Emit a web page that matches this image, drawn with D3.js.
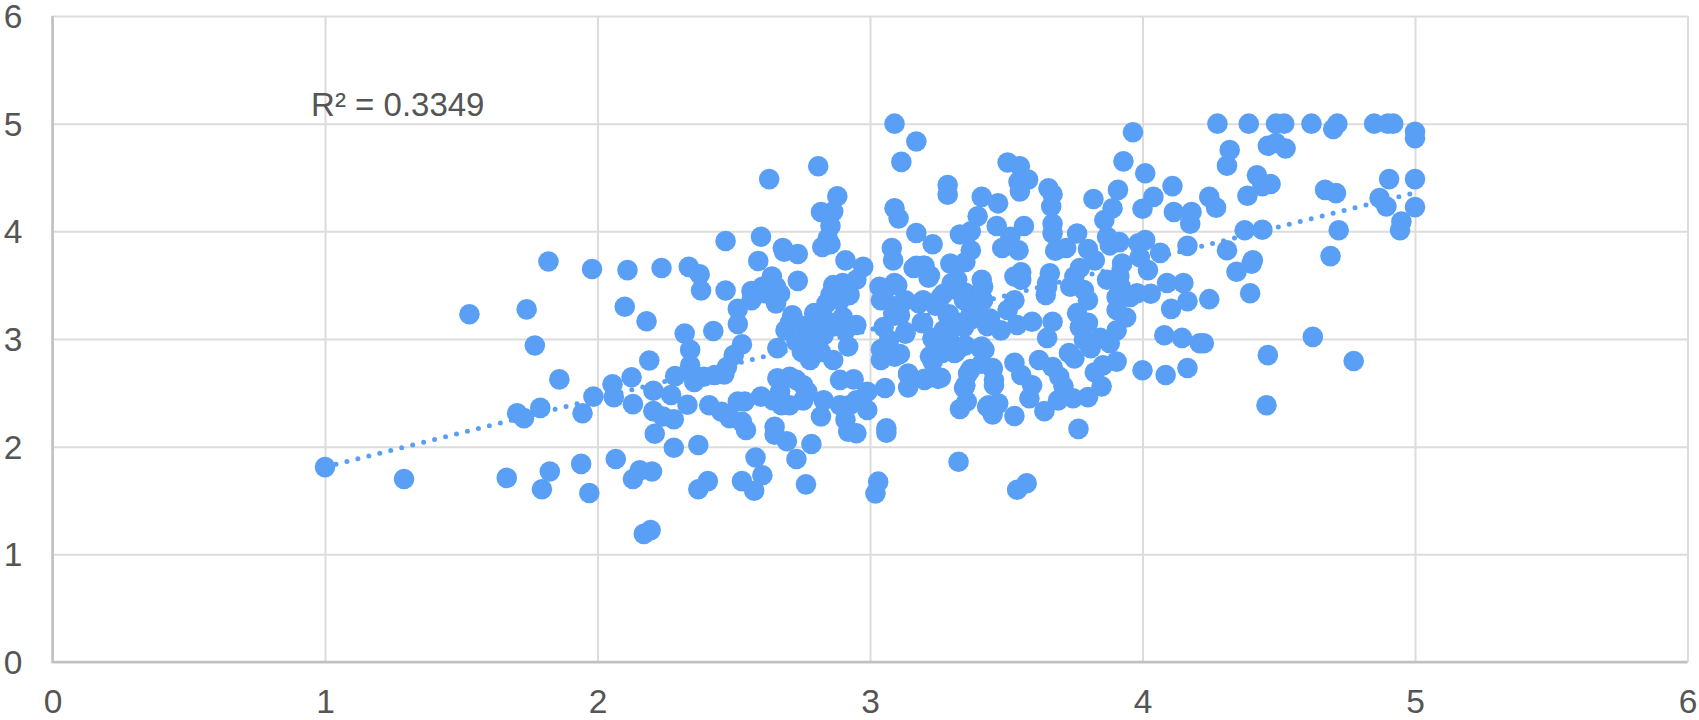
<!DOCTYPE html>
<html><head><meta charset="utf-8">
<script src="https://cdn.jsdelivr.net/npm/d3@7/dist/d3.min.js"></script>
<style>html,body{margin:0;padding:0;background:#fff}svg{display:block}</style>
</head><body><div id="chart"></div>
<script>
const xTickValues=[0,1,2,3,4,5,6];
const yTickValues=[0,1,2,3,4,5,6];
const trendX=[1,5];
const trendY=[1.81,4.36];
const r2Label="R² = 0.3349";
const r2Pos=[0.949,5.07];

const pointsLeft=[[1,1.81],[1.29,1.70],[1.53,3.23],[1.74,3.275],[1.77,2.94],[1.82,3.72],[1.98,3.65],[1.86,2.625],[1.705,2.31],[1.73,2.265],[1.79,2.36],[1.945,2.31],[1.985,2.465],[2.055,2.58],[2.06,2.46],[1.667,1.71],[1.825,1.77],[1.796,1.605],[1.94,1.84],[1.97,1.57],[2.067,1.885],
[2.11,3.64],[2.10,3.30],[2.235,3.66],[2.18,3.165],[2.19,2.80],[2.125,2.645],[2.13,2.395],[2.205,2.52],[2.205,2.33],[2.21,2.12],[2.24,2.28],[2.28,2.255],[2.27,2.48],[2.285,2.655],[2.28,1.99],[2.335,3.67],[2.375,3.60],[2.38,3.45],[2.32,3.05],[2.34,2.90],[2.34,2.755],[2.355,2.60],[2.39,2.65],[2.33,2.39],[2.37,2.015],[2.37,1.605],[2.405,1.68],[2.41,2.385],[2.425,3.075],[2.43,2.665],[2.465,2.67],[2.47,3.45],[2.47,3.91],[2.455,2.325],[2.485,2.265],[2.475,2.74],[2.50,2.85],[2.53,2.95],[2.515,3.28],[2.515,3.14],[2.515,2.42],[2.54,2.42],[2.53,2.23],[2.545,2.155],[2.53,1.68],[2.575,1.59],[2.58,1.90],[2.605,1.735],[2.13,1.70],[2.155,1.78],[2.20,1.77],[2.17,1.19],[2.195,1.225]];

const pointsCentreLeft=[[2.63,4.485],[2.81,4.605],[2.88,4.325],[2.82,4.18],[2.865,4.185],[2.855,4.05],[2.845,3.935],[2.855,3.88],[2.825,3.855],[2.60,3.95],[2.68,3.845],[2.685,3.81],[2.735,3.79],[2.59,3.725],[2.735,3.54],[2.91,3.73],[2.975,3.67],[2.64,3.58],[2.655,3.485],[2.565,3.445],[2.605,3.485],[2.67,3.42],[2.655,3.33],[2.565,3.36],[2.615,3.425],[2.715,3.22],[2.69,3.08],[2.66,2.915],[2.705,3.145],[2.795,3.24],[2.855,3.41],[2.925,3.41],[2.865,3.50],[2.89,3.36],[2.90,3.205],[2.95,3.13],[2.84,3.33],[2.92,2.93],[2.865,2.805],[2.78,2.805],[2.75,2.88],[2.73,2.975],[2.795,3.08],[2.83,3.035],[2.82,2.88],
[2.60,2.465],[2.645,2.43],[2.675,2.385],[2.705,2.385],[2.755,2.43],[2.65,2.185],[2.65,2.11],[2.695,2.05],[2.785,2.025],[2.73,1.885],[2.66,2.635],[2.705,2.65],[2.755,2.57],[2.77,2.51],[2.67,2.51],[2.73,2.62],[2.765,1.65],[2.89,2.62],[2.94,2.625],[2.99,2.51],[2.83,2.43],[2.82,2.28],[2.89,2.385],[2.925,2.385],[2.99,2.34],[2.91,2.25],[2.92,2.14],[2.95,2.125],[2.95,2.43],[3.06,2.17],[3.06,2.13],[3.03,1.675],[3.02,1.565],[3.04,2.805],[3.06,2.93],[3.05,3.11],[3.04,3.36],[3.09,2.835],[3.085,3.24],[3.07,2.99],[3.055,2.545],
[3.09,5.0],[3.115,4.645],[3.09,4.215],[3.105,4.12],[3.08,3.845],[3.085,3.73],[3.035,3.485],[3.09,3.52],[3.05,3.39],[3.14,2.67],[3.14,2.55],[3.20,2.63],[3.25,2.63],[3.22,2.84],[3.17,3.68],[3.20,3.68],[3.215,3.57],[3.11,3.32],[3.11,3.22],[3.13,3.05],[3.18,3.33],[3.24,3.31],[3.19,3.15],[3.10,3.50],[3.04,2.905],[3.23,3.0],[3.27,3.08],[3.29,3.23],[3.33,2.92],[3.37,3.18],[3.41,2.93],[3.31,2.87],[3.35,3.43],[3.41,2.77],[3.45,2.72],[3.43,2.37],[3.47,2.40],[3.45,2.30],[3.455,2.62],[3.37,2.72],[3.35,2.57],
[2.87,3.44],[2.90,3.52],[2.95,3.55],[2.84,3.17],[2.87,3.12],[2.78,3.0],[2.91,3.08],[2.76,3.12],[3.30,3.52],[3.33,3.15],[3.29,3.0],[3.27,3.42],[3.43,3.12],[3.40,3.22]];

const pointsCentre=[[3.17,4.835],[3.285,4.43],[3.285,4.34],[3.41,4.32],[3.47,4.26],[3.395,4.14],[3.465,4.05],[3.565,4.05],[3.505,4.64],[3.55,4.605],[3.58,4.48],[3.545,4.46],[3.55,4.37],[3.655,4.40],[3.67,4.345],[3.665,4.23],[3.67,4.07],[3.67,3.98],[3.68,3.82],[3.72,3.845],[3.76,3.98],[3.82,4.30],[3.91,4.385],[3.89,4.215],[3.86,4.105],[3.93,4.65],[3.965,4.92],[4.01,4.54],[4.04,4.32],[4.00,4.21],[4.11,4.42],[4.115,4.18],[4.18,4.18],[4.175,4.07],[4.165,3.865],[4.09,3.52],[4.15,3.52],[3.17,3.985],[3.23,3.88],[3.33,3.97],[3.37,4.0],[3.37,3.825],[3.295,3.70],[3.35,3.715],[3.16,3.66],[3.195,3.68],[3.22,3.59],[3.32,3.55],[3.485,3.845],[3.515,3.95],[3.545,3.825],[3.53,3.58],[3.555,3.62],[3.555,3.55],[3.41,3.55],[3.66,3.61],[3.65,3.485],[3.77,3.66],[3.825,3.73],[3.80,3.835],[3.75,3.58],[3.87,3.95],[3.88,3.87],[3.915,3.90],[3.925,3.70],[3.87,3.55],[3.915,3.58],[3.985,3.89],[4.01,3.92],[4.02,3.64],[4.065,3.80],[3.99,3.76],
[3.325,1.86],[3.575,1.66],[3.54,1.60],[3.765,2.165],[3.33,2.35],[3.355,2.42],[3.345,2.545],[3.36,2.68],[3.26,2.64],[3.20,2.62],[3.14,2.68],[3.23,2.79],[3.11,2.86],[3.435,2.385],[3.47,2.40],[3.53,2.285],[3.455,2.57],[3.45,2.73],[3.42,2.90],[3.53,2.78],[3.555,2.665],[3.595,2.57],[3.585,2.45],[3.64,2.33],[3.69,2.43],[3.745,2.45],[3.80,2.46],[3.85,2.56],[3.825,2.69],[3.855,2.755],[3.905,2.79],[4.00,2.71],[4.085,2.665],[4.165,2.73],[4.08,3.035],[4.145,3.01],[4.21,2.96],[4.105,3.28],[4.165,3.35],[4.03,3.42],[3.98,3.425],[3.62,2.805],[3.67,2.74],[3.695,2.65],[3.71,2.56],[3.75,2.82],[3.73,2.87],[3.81,2.915],[3.88,2.96],[3.905,3.08],[3.94,3.20],[3.905,3.27],[3.905,3.39],[3.92,3.485],[3.955,3.39],[3.845,3.01],[3.785,2.99],[3.77,3.11],[3.80,3.15],[3.76,3.24],[3.80,3.36],[3.785,3.455],[3.735,3.485],[3.67,3.16],[3.65,3.01],[3.645,3.41],[3.65,3.52],[3.595,3.16],[3.54,3.13],[3.48,3.08],[3.44,3.19],[3.505,3.27],[3.53,3.36],[3.415,3.36],[3.415,3.485],[3.37,3.24],[3.345,3.36],[3.32,3.455],[3.285,3.22],[3.26,3.39],[3.195,3.36],[3.13,3.36],[3.195,3.15],[3.23,3.01],[3.13,3.065],[3.28,2.96],[3.345,3.11],[3.35,2.94],[3.405,2.915],[3.315,2.88],[3.265,2.87]];

const pointsRight=[[4.275,5.0],[4.39,5.0],[4.49,5.0],[4.52,5.0],[4.62,5.0],[4.70,4.95],[4.715,5.0],[4.85,5.0],[4.90,5.0],[4.92,5.0],[5,4.925],[5,4.865],[4.46,4.795],[4.49,4.82],[4.525,4.77],[4.32,4.755],[4.31,4.61],[4.42,4.52],[4.47,4.44],[4.44,4.42],[4.385,4.33],[4.905,4.485],[5,4.485],[4.245,4.32],[4.27,4.22],[4.67,4.385],[4.71,4.355],[4.87,4.31],[4.895,4.23],[5,4.225],[4.95,4.09],[4.945,4.01],[4.375,4.01],[4.44,4.015],[4.72,4.01],[4.31,3.825],[4.405,3.73],[4.345,3.625],[4.40,3.70],[4.69,3.77],[4.395,3.425],[4.245,3.37],[4.225,2.96],[4.46,2.85],[4.625,3.02],[4.775,2.795],[4.455,2.385]];

const width=1699,height=720;
const x=d3.scaleLinear().domain([0,6]).range([52.5,1687.5]);
const y=d3.scaleLinear().domain([0,6]).range([662,16]);
const gridColor="#dcdcdc",axisColor="#c0c0c0",textColor="#555555",pointColor="#5a9ff6";
const fontFamily="'Liberation Sans',Arial,sans-serif",fontSize=33.5;

const svg=d3.select("#chart").append("svg").attr("width",width).attr("height",height);

const gx=svg.append("g").attr("transform",`translate(0,${y(0)})`)
  .call(d3.axisBottom(x).tickValues(xTickValues).tickFormat(d3.format("d")).tickSize(-(y(0)-y(6))).tickPadding(39));
const gy=svg.append("g").attr("transform",`translate(${x(0)},0)`)
  .call(d3.axisLeft(y).tickValues(yTickValues).tickFormat(d3.format("d")).tickSize(-(x(6)-x(0))).tickPadding(30));
[gx,gy].forEach(g=>{
  g.select(".domain").remove();
  g.selectAll("line").attr("stroke",gridColor).attr("stroke-width",2);
  g.selectAll("text").attr("fill",textColor).attr("font-family",fontFamily).attr("font-size",fontSize);
});
gx.selectAll("text").attr("dy",null).attr("dominant-baseline","central");
gy.selectAll("text").attr("dy",null).attr("dominant-baseline","central").attr("text-anchor","middle");
gy.selectAll("text").attr("x",13-x(0));

const axisLine=d3.line();
svg.append("path").attr("d",axisLine([[x(0),y(6)],[x(0),y(0)],[x(6),y(0)]]))
  .attr("fill","none").attr("stroke",axisColor).attr("stroke-width",2.5);

svg.append("path").attr("d",axisLine(trendX.map((v,i)=>[x(v),y(trendY[i])])))
  .attr("fill","none").attr("stroke",pointColor).attr("stroke-width",5)
  .attr("stroke-linecap","round").attr("stroke-dasharray","0 11.3");

const allPoints=[...pointsLeft,...pointsCentreLeft,...pointsCentre,...pointsRight];
svg.append("g").selectAll("circle").data(allPoints).join("circle")
  .attr("cx",d=>x(d[0])).attr("cy",d=>y(d[1])).attr("r",10.3).attr("fill",pointColor);

svg.append("text").attr("x",x(r2Pos[0])).attr("y",y(r2Pos[1]))
  .attr("fill",textColor).attr("font-family",fontFamily).attr("font-size",33).text(r2Label);
</script></body></html>
